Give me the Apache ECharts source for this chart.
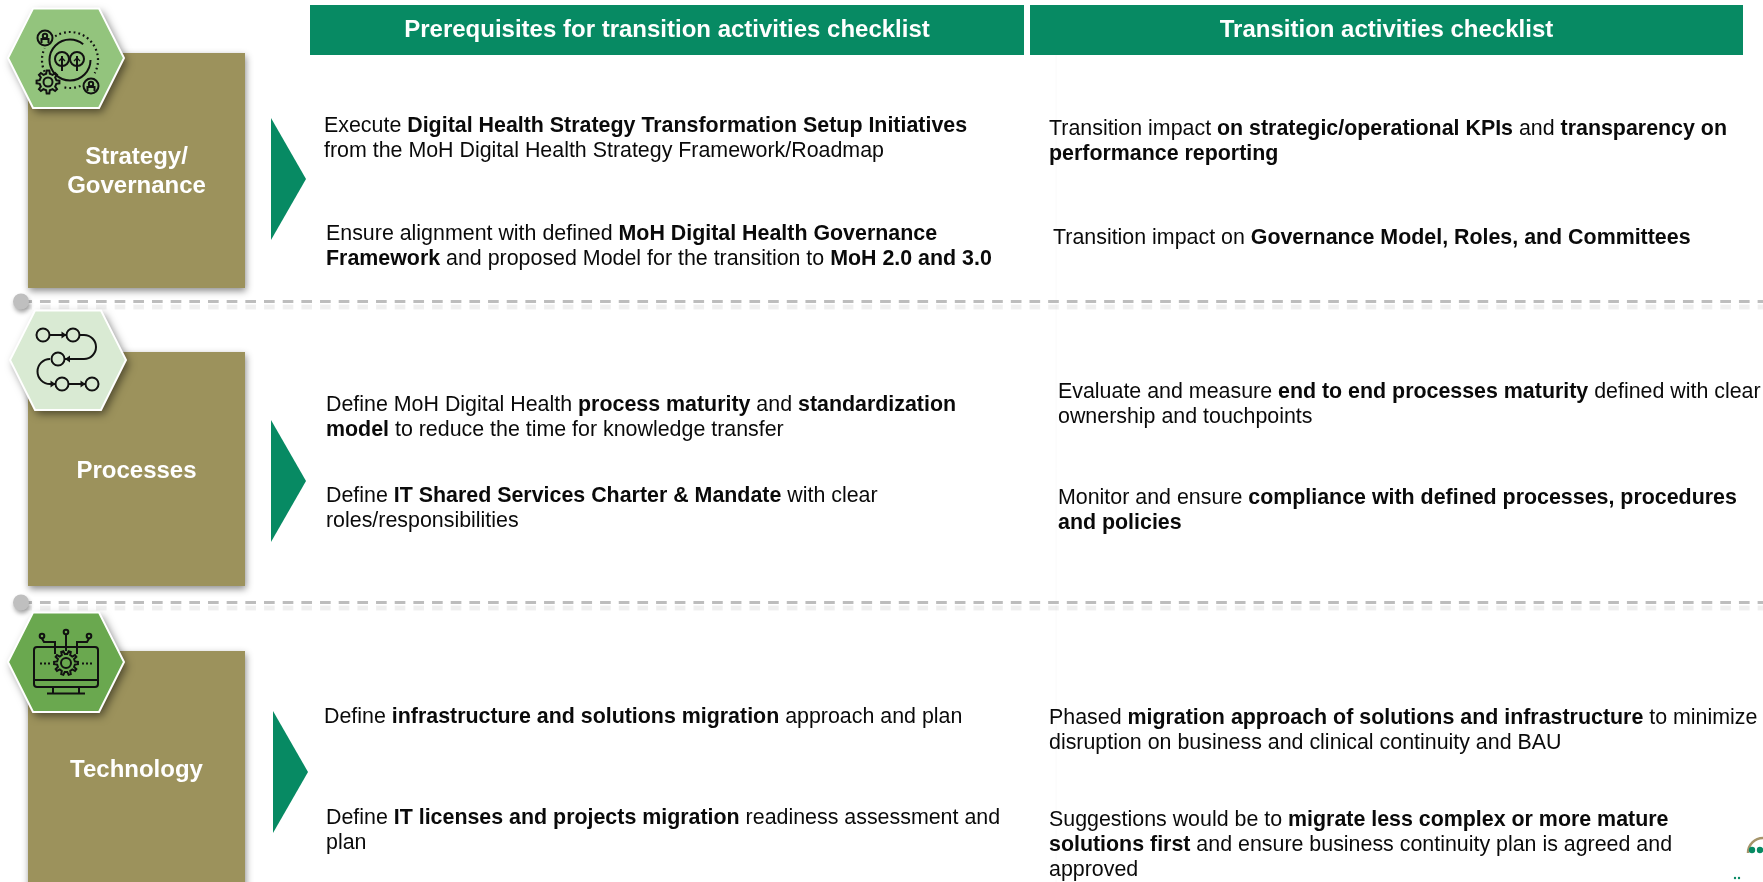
<!DOCTYPE html>
<html>
<head>
<meta charset="utf-8">
<title>Transition checklist</title>
<script src="https://cdn.jsdelivr.net/npm/echarts@6/dist/echarts.min.js"></script>
<style>
html,body{margin:0;padding:0;background:#fff;overflow:hidden}
#main{width:1763px;height:882px}
</style>
</head>
<body>
<div id="main"></div>
<script>
const headers = ['Prerequisites for transition activities checklist', 'Transition activities checklist'];
const categories = ['Strategy/\nGovernance', 'Processes', 'Technology'];
const prerequisites = [
  'Execute {b|Digital Health Strategy Transformation Setup Initiatives}\nfrom the MoH Digital Health Strategy Framework/Roadmap',
  'Ensure alignment with defined {b|MoH Digital Health Governance}\n{b|Framework} and proposed Model for the transition to {b|MoH 2.0 and 3.0}',
  'Define MoH Digital Health {b|process maturity} and {b|standardization}\n{b|model} to reduce the time for knowledge transfer',
  'Define {b|IT Shared Services Charter & Mandate} with clear\nroles/responsibilities',
  'Define {b|infrastructure and solutions migration} approach and plan',
  'Define {b|IT licenses and projects migration} readiness assessment and\nplan'
];
const transitions = [
  'Transition impact {b|on strategic/operational KPIs} and {b|transparency on}\n{b|performance reporting}',
  'Transition impact on {b|Governance Model, Roles, and Committees}',
  'Evaluate and measure {b|end to end processes maturity} defined with clear\nownership and touchpoints',
  'Monitor and ensure {b|compliance with defined processes, procedures}\n{b|and policies}',
  'Phased {b|migration approach of solutions and infrastructure} to minimize\ndisruption on business and clinical continuity and BAU',
  'Suggestions would be to {b|migrate less complex or more mature}\n{b|solutions first} and ensure business continuity plan is agreed and\napproved'
];

// layout
const FONT = '"Liberation Sans", Arial, sans-serif';
const GREEN = '#078a63';
const OLIVE = '#9c925c';
const BODY_SIZE = 21.4;
const LINE_H = 25.3;
const prereqPos = [[324,113.5],[326,221],[326,392.5],[326,483.5],[324,704],[326,805]];
const transPos = [[1049,116.5],[1053,225],[1058,379],[1058,485],[1049,705],[1049,807]];
const headerRects = [[310,5,714,50],[1030,5,713,50]];
const boxRects = [[28,53,217,235],[28,352,217,234],[28,651,217,240]];
const labelY = [171.5,471,770];
const arrows = [[271,118,306,179,240],[271,420,306,481,542],[273,711,308,772,833]];
const hexes = [
  {x:8,y:58,fill:'#93c47d'},
  {x:10,y:360,fill:'#d9ead3'},
  {x:8,y:662,fill:'#6aa84f'}
];
const dashY = [301.5,602.5];

const els = [];

function shadow(blur, ox, oy, a){
  return {shadowBlur:blur, shadowOffsetX:ox, shadowOffsetY:oy, shadowColor:'rgba(0,0,0,'+a+')'};
}
const ink = {fill:'none', stroke:'#111', lineWidth:2};
function circle(cx,cy,r,fill){
  els.push({type:'circle', z:20, shape:{cx,cy,r}, style:Object.assign({},ink,{fill:fill||'none'})});
}
function line(pts,extra){
  els.push({type:'polyline', z:20, shape:{points:pts}, style:Object.assign({},ink,extra||{})});
}
function arc(cx,cy,r,a0,a1,extra){
  els.push({type:'arc', z:20, shape:{cx,cy,r,startAngle:a0*Math.PI/180,endAngle:a1*Math.PI/180,clockwise:true},
    style:Object.assign({},ink,extra||{})});
}
function head(x,y,dir){
  els.push({type:'polygon', z:20, shape:{points:[[x,y],[x-dir*5,y-3.5],[x-dir*5,y+3.5]]}, style:{fill:'#111'}});
}
function gear(cx,cy,rOut,rIn,hole,teeth){
  const pts = [];
  for(let i=0;i<teeth;i++){
    const a = i/teeth*Math.PI*2, w = Math.PI/teeth*0.5;
    [[rIn,a-w*1.1],[rOut,a-w*0.6],[rOut,a+w*0.6],[rIn,a+w*1.1]].forEach(p=>{
      pts.push([cx+p[0]*Math.cos(p[1]),cy+p[0]*Math.sin(p[1])]);
    });
  }
  els.push({type:'polygon', z:20, shape:{points:pts}, style:ink});
  circle(cx,cy,hole);
}

// faint column rule behind the right text
els.push({type:'line', z:0, shape:{x1:1056,y1:55,x2:1056,y2:882}, style:{stroke:'#fafafa',lineWidth:1}});

// dashed separators sit under the boxes
dashY.forEach(y=>{
  els.push({type:'line', z:1, shape:{x1:21.3,y1:y+5.5,x2:1763,y2:y+5.5},
    style:Object.assign({stroke:'rgba(0,0,0,0.06)',lineWidth:5,lineDash:[10.67,8]},shadow(4,0,0,0.12))});
  els.push({type:'line', z:1, shape:{x1:21.3,y1:y,x2:1763,y2:y},
    style:{stroke:'#bdbdbd',lineWidth:2.8,lineDash:[10.67,8]}});
  els.push({type:'circle', z:2, shape:{cx:21,cy:y,r:8},
    style:Object.assign({fill:'#bfbfbf'},shadow(4,1,3,0.35))});
});

headerRects.forEach((r,i)=>{
  els.push({type:'rect', z:3, shape:{x:r[0],y:r[1],width:r[2],height:r[3]}, style:{fill:GREEN}});
  els.push({type:'text', z:4, x:r[0]+r[2]/2, y:r[1]+r[3]/2+0.5,
    style:{text:headers[i],fill:'#fff',font:'bold 24px '+FONT,align:'center',verticalAlign:'middle'}});
});

boxRects.forEach((r,i)=>{
  els.push({type:'rect', z:5, shape:{x:r[0],y:r[1],width:r[2],height:r[3]},
    style:Object.assign({fill:OLIVE},shadow(7,1,3,0.45))});
  els.push({type:'text', z:6, x:r[0]+r[2]/2, y:labelY[i],
    style:{text:categories[i],fill:'#fff',font:'bold 24px '+FONT,align:'center',verticalAlign:'middle',lineHeight:29}});
});

arrows.forEach(a=>{
  els.push({type:'polygon', z:5, shape:{points:[[a[0],a[1]],[a[2],a[3]],[a[0],a[4]]]}, style:{fill:GREEN}});
});

hexes.forEach(h=>{
  const pts = [[h.x,h.y],[h.x+25,h.y-49.5],[h.x+91,h.y-49.5],[h.x+116,h.y],[h.x+91,h.y+50],[h.x+25,h.y+50]];
  // stroke drawn apart, its shadow would land on the fill otherwise
  els.push({type:'polygon', z:10, shape:{points:pts},
    style:Object.assign({fill:h.fill},shadow(8,3,4,0.5))});
  els.push({type:'polygon', z:11, shape:{points:pts}, style:{fill:'none',stroke:'#fff',lineWidth:2}});
});

// icon 1: trees, people, gear
arc(70,60,20.5,0,310);
[62,77].forEach(x=>{
  circle(x,59,7);
  line([[x,56],[x,71]]);
  line([[x-3,61],[x,58],[x+3,61]],{lineWidth:1.4});
});
const dots = {lineDash:[1.8,3],lineWidth:2.2};
arc(70,60,28,-122,28,dots);
arc(70,60,28,155,205,dots);
arc(70,60,28,68,105,dots);
[[45,38],[91,86]].forEach(p=>{
  circle(p[0],p[1],7.5);
  circle(p[0],p[1]-2,2.2);
  line([[p[0]-3.5,p[1]+5],[p[0]-3.5,p[1]+1],[p[0]+3.5,p[1]+1],[p[0]+3.5,p[1]+5]]);
});
gear(48,82,11.5,8.5,4.5,8);

// icon 2: process flow
[[43,335],[73,335],[58,359],[62,384],[92,384]].forEach(p=>circle(p[0],p[1],6.5));
line([[49.5,335],[66.5,335]]); head(66.5,335,1);
line([[79.5,335],[84,335]]); arc(84,347,12,-90,90);
line([[84,359],[65,359]]); head(65,359,-1);
arc(50,371.5,12.5,90,270);
line([[50,384],[55.5,384]]); head(55.5,384,1);
line([[68.5,384],[85.5,384]]); head(85.5,384,1);

// icon 3: monitor with gear
els.push({type:'rect', z:20, shape:{x:34,y:647,width:64,height:40,r:3}, style:ink});
line([[34,680],[98,680]]);
line([[53,687],[53,693]]);
line([[79,687],[79,693]]);
line([[47,693.5],[85,693.5]]);
els.push({type:'circle', z:19, shape:{cx:66,cy:663,r:13}, style:{fill:'#6aa84f'}});
gear(66,663,12,9,5,10);
circle(66,632,2.3);
circle(42,636,2.3);
circle(89,636,2.3);
line([[66,634.5],[66,651]]);
line([[42,638.5],[44,642],[55,642],[55,654]]);
line([[89,638.5],[87,642],[77,642],[77,654]]);
line([[40,663.5],[50,663.5]],{lineDash:[2,2],lineWidth:2});
line([[82,663.5],[92,663.5]],{lineDash:[2,2],lineWidth:2});

// body text
function addText(str,pos){
  els.push({type:'text', z:8, x:pos[0], y:pos[1], style:{
    text:str, fill:'#0a0a0a', fontFamily:FONT, fontSize:BODY_SIZE, lineHeight:LINE_H,
    align:'left', verticalAlign:'top',
    rich:{b:{fontFamily:FONT, fontSize:BODY_SIZE, fontWeight:'bold', lineHeight:LINE_H, fill:'#0a0a0a'}}
  }});
}
prerequisites.forEach((s,i)=>addText(s,prereqPos[i]));
transitions.forEach((s,i)=>addText(s,transPos[i]));

// corner logo, cut off by the slide edge
els.push({type:'arc', z:8, shape:{cx:1763,cy:853,r:15,startAngle:Math.PI,endAngle:Math.PI*1.5,clockwise:true},
  style:{fill:'none',stroke:'#a5946a',lineWidth:2.5}});
[[1752,850],[1760,850]].forEach(p=>{
  els.push({type:'circle', z:8, shape:{cx:p[0],cy:p[1],r:3.2}, style:{fill:GREEN}});
});
[[1735,878],[1739,878]].forEach(p=>{
  els.push({type:'circle', z:8, shape:{cx:p[0],cy:p[1],r:1.2}, style:{fill:GREEN}});
});

const chart = echarts.init(document.getElementById('main'), null, {renderer:'canvas'});
chart.setOption({backgroundColor:'#fff', animation:false, graphic:{elements:els}});
</script>
</body>
</html>
